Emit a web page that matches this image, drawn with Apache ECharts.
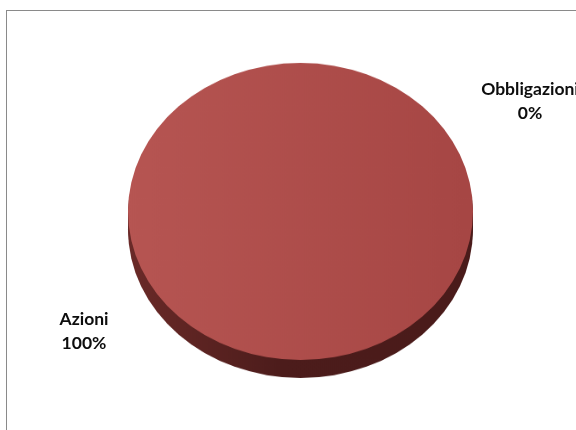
<!DOCTYPE html>
<html>
<head>
<meta charset="utf-8">
<script src="https://cdn.jsdelivr.net/npm/echarts@6/dist/echarts.min.js"></script>
<style>
  html, body { margin:0; padding:0; background:#fff; }
  #wrap { position:relative; width:576px; height:430px; overflow:hidden; background:#fff; }
  #frame { position:absolute; left:6px; top:10px; width:700px; height:600px; border-left:1px solid #8a8a8a; border-top:1px solid #8a8a8a; box-sizing:border-box; }
  #pie { position:absolute; left:0; top:0; width:576px; height:500px; transform:scaleY(0.861); transform-origin:0 0; }
  #lab { position:absolute; left:0; top:0; width:576px; height:430px; }
</style>
</head>
<body>
<div id="wrap">
  <div id="frame"></div>
  <div id="pie"></div>
  <div id="lab"></div>
</div>
<script>
// ---- data ----
const categories = ['Azioni', 'Obbligazioni'];
const values = [100, 0];

const pieData = categories.map((c, i) => ({ name: c, value: values[i] }));

const cx = 300.5, cy = 245.6, R = 172.5;
const rimOffsets = [4, 8, 12, 16, 20.9];

const topColor = new echarts.graphic.LinearGradient(0, 0, 1, 0, [
  { offset: 0, color: '#b65552' },
  { offset: 1, color: '#a64644' }
]);
const rimColor = new echarts.graphic.LinearGradient(0, 0, 1, 0, [
  { offset: 0, color: '#6a2a28' },
  { offset: 0.45, color: '#4c1c1b' },
  { offset: 1, color: '#4a1b1a' }
]);

const series = [];
rimOffsets.forEach(d => {
  series.push({
    type: 'pie', silent: true, animation: false,
    center: [cx, cy + d], radius: R, startAngle: 90,
    label: { show: false }, labelLine: { show: false },
    itemStyle: { color: rimColor, borderWidth: 0 },
    emphasis: { disabled: true },
    data: pieData
  });
});
series.push({
  type: 'pie', silent: true, animation: false,
  center: [cx, cy], radius: R, startAngle: 90,
  label: { show: false }, labelLine: { show: false },
  itemStyle: { color: topColor, borderWidth: 0 },
  emphasis: { disabled: true },
  data: pieData
});

const pieChart = echarts.init(document.getElementById('pie'), null, { renderer: 'canvas' });
pieChart.setOption({ animation: false, series: series });

// label layer (unscaled)
const labelPos = [
  { x: 84, y: 331 },
  { x: 530, y: 101 }
];
const labChart = echarts.init(document.getElementById('lab'), null, { renderer: 'canvas' });
labChart.setOption({
  animation: false,
  series: [{
    type: 'pie', silent: true, animation: false,
    center: [300.5, 211.5], radius: 148, startAngle: 90,
    itemStyle: { color: 'rgba(0,0,0,0)', borderWidth: 0 },
    labelLine: { show: false },
    label: {
      show: true, position: 'outside',
      formatter: '{b}\n{d}%',
      fontFamily: 'Lato', fontWeight: 'bold', fontSize: 17.5, lineHeight: 24,
      color: '#0d0d0d', align: 'center'
    },
    labelLayout: function (p) {
      const pos = labelPos[p.dataIndex];
      return { x: pos.x, y: pos.y, align: 'center', verticalAlign: 'middle', hideOverlap: false, moveOverlap: null };
    },
    data: pieData
  }]
});
</script>
</body>
</html>
